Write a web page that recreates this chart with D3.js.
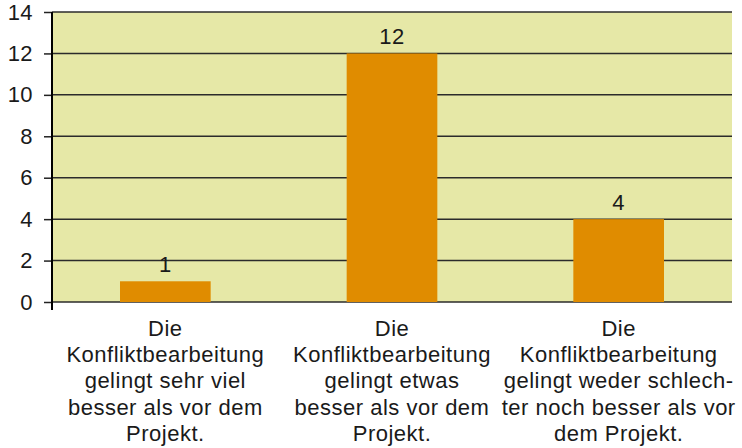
<!DOCTYPE html>
<html><head><meta charset="utf-8">
<script src="https://cdn.jsdelivr.net/npm/d3@7"></script>
<style>body{margin:0;background:#fff}svg{display:block}text{font-family:"Liberation Sans",Arial,sans-serif;fill:#1a1a1a}</style>
</head><body><svg id="c" width="742" height="448"></svg>
<script>
const categories = [
  ["Die","Konfliktbearbeitung","gelingt sehr viel","besser als vor dem","Projekt."],
  ["Die","Konfliktbearbeitung","gelingt etwas","besser als vor dem","Projekt."],
  ["Die","Konfliktbearbeitung","gelingt weder schlech-","ter noch besser als vor","dem Projekt."]
];
const values = [1, 12, 4];
const yTicks = [0, 2, 4, 6, 8, 10, 12, 14];

const svg = d3.select("#c");
const L = 52, R = 732, T = 12, B = 302;
const x = d3.scaleBand().domain(d3.range(values.length)).range([L, R]).paddingInner(0.6).paddingOuter(0.3);
const y = d3.scaleLinear().domain([0, 14]).range([B, T]);

svg.append("rect").attr("x", L).attr("y", T).attr("width", R - L).attr("height", B - T).attr("fill", "#e6e8a7");

const yAxis = d3.axisLeft(y).tickValues(yTicks).tickSize(8).tickPadding(11).tickFormat(d3.format("d"));
const ga = svg.append("g").attr("transform", `translate(${L},0)`).call(yAxis);
ga.select(".domain").remove();
ga.selectAll(".tick line").attr("stroke", "#222").attr("stroke-width", 1.5);
ga.selectAll(".tick text").style("font-size", "22px").style("letter-spacing", "0.4px").attr("fill", "#1a1a1a");
svg.append("g").selectAll("line").data(yTicks).join("line")
  .attr("x1", L).attr("x2", R).attr("y1", d => y(d)).attr("y2", d => y(d))
  .attr("stroke", "#2b2b2b").attr("stroke-width", 1.5);

svg.append("g").selectAll("rect").data(values).join("rect")
  .attr("x", (d, i) => x(i)).attr("width", x.bandwidth())
  .attr("y", d => y(d)).attr("height", d => y(0) - y(d)).attr("fill", "#e08c00");

svg.append("line").attr("x1", L).attr("x2", L).attr("y1", T).attr("y2", 310).attr("stroke", "#000").attr("stroke-width", 2);

svg.append("g").selectAll("text").data(values).join("text")
  .attr("x", (d, i) => x(i) + x.bandwidth() / 2).attr("y", d => y(d) - 9)
  .attr("text-anchor", "middle").style("font-size", "22px").style("letter-spacing", "0.4px").text(d => d);

const cg = svg.append("g").selectAll("text").data(categories).join("text")
  .attr("text-anchor", "middle").style("font-size", "22px").style("letter-spacing", "0.5px")
  .attr("transform", (d, i) => `translate(${x(i) + x.bandwidth() / 2},0)`);
cg.selectAll("tspan").data(d => d).join("tspan")
  .attr("x", 0).attr("y", (d, j) => 336 + j * 26.2).text(d => d);
</script></body></html>
